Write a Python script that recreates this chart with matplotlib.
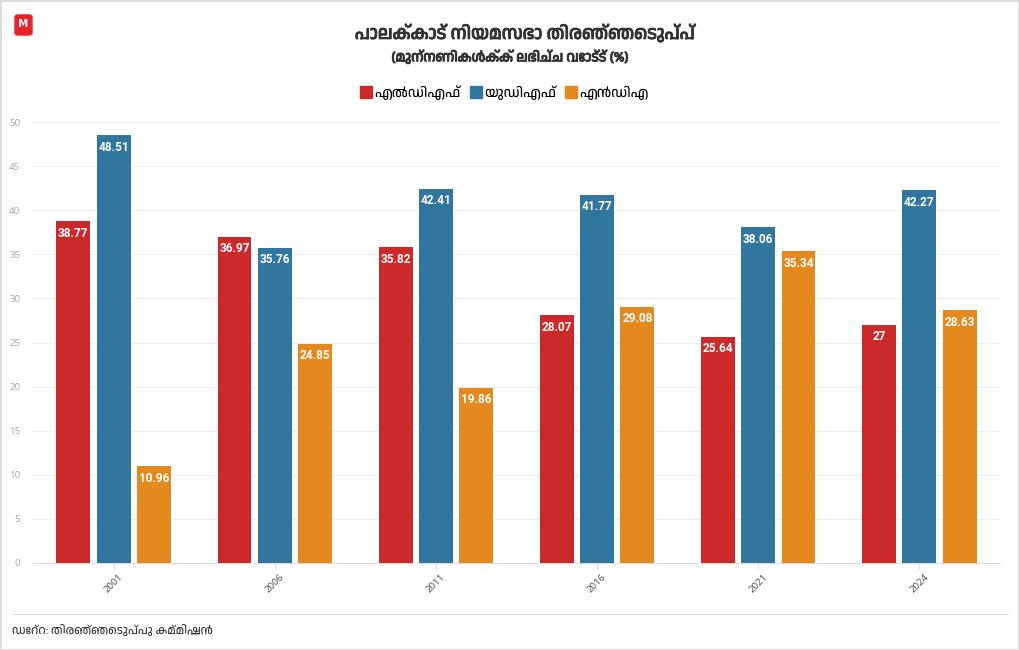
import matplotlib.pyplot as plt
from matplotlib import font_manager
from matplotlib import patheffects
from matplotlib.patches import FancyBboxPatch
import numpy as np

YEARS = ["2001", "2006", "2011", "2016", "2021", "2024"]
LDF = [38.77, 36.97, 35.82, 28.07, 25.64, 27]
UDF = [48.51, 35.76, 42.41, 41.77, 38.06, 42.27]
NDA = [10.96, 24.85, 19.86, 29.08, 35.34, 28.63]
SERIES = ["എൽഡിഎഫ്", "യുഡിഎഫ്", "എൻഡിഎ"]
COLORS = ["#cc292b", "#31769e", "#e4891e"]

TITLE = "പാലക്കാട് നിയമസഭാ തിരഞ്ഞെടുപ്പ്"
SUBTITLE = "(മുന്നണികൾക്ക് ലഭിച്ച വോട്ട് (%)"
SOURCE = "ഡേറ്റ: തിരഞ്ഞെടുപ്പു കമ്മിഷൻ"

# use an installed Malayalam font if there is one
mal = [f.name for f in font_manager.fontManager.ttflist if "Malayalam" in f.name]
plt.rcParams["font.family"] = mal[:1] + ["Noto Sans", "DejaVu Sans"]

# fake a heavier weight for the headings
HEAVY = [patheffects.withStroke(linewidth=0.7, foreground="#333333")]


def main():
    fig = plt.figure(figsize=(10.2, 6.5), dpi=100)
    ax = fig.add_axes([33 / 1020, 87 / 650, 967 / 1020, 441 / 650])

    x = np.arange(len(YEARS))
    width = 0.21
    step = 0.25
    for i, (vals, col) in enumerate(zip([LDF, UDF, NDA], COLORS)):
        pos = x + (i - 1) * step
        bars = ax.bar(pos, vals, width=width, color=col, zorder=3)
        for b, v in zip(bars, vals):
            ax.annotate(f"{v:g}", (b.get_x() + b.get_width() / 2, v),
                        xytext=(0, -4), textcoords="offset points",
                        ha="center", va="top", color="white",
                        fontsize=8.5, fontweight="bold", family=["Roboto", "DejaVu Sans"],
                        zorder=4)

    ax.set_xlim(-0.5, len(YEARS) - 0.5)
    ax.set_ylim(0, 50)
    ax.set_yticks(range(0, 51, 5))
    ax.set_xticks(x)
    ax.set_xticklabels(YEARS, rotation=45, fontsize=7, color="#555555")
    ax.tick_params(axis="y", labelsize=7, labelcolor="#aaaaaa", length=0, pad=9)
    ax.tick_params(axis="x", length=4, color="#dddddd", pad=3)
    for lab in ax.get_xticklabels() + ax.get_yticklabels():
        lab.set_family(["Noto Sans", "DejaVu Sans"])
    ax.grid(axis="y", color="#eeeeee", linewidth=0.8, zorder=0)
    for s in ["top", "right", "left"]:
        ax.spines[s].set_visible(False)
    ax.spines["bottom"].set_color("#dddddd")

    fig.text(525 / 1020, 1 - 33 / 650, TITLE, ha="center", va="center",
             fontsize=13, fontweight="bold", color="#333333", path_effects=HEAVY)
    fig.text(510 / 1020, 1 - 57 / 650, SUBTITLE, ha="center", va="center",
             fontsize=10, fontweight="bold", color="#333333", path_effects=HEAVY)

    # legend
    handles = [plt.Line2D([], [], marker="s", linestyle="", markersize=9,
                          color=c) for c in COLORS]
    fig.legend(handles, SERIES, loc="center", bbox_to_anchor=(504 / 1020, 1 - 93 / 650),
               ncol=3, frameon=False, fontsize=10, handletextpad=0.1,
               columnspacing=0.6, handlelength=1.0)

    # source
    fig.add_artist(plt.Line2D([12 / 1020, 1008 / 1020], [1 - 614 / 650] * 2,
                              color="#dddddd", linewidth=0.8))
    fig.text(12 / 1020, 1 - 630 / 650, SOURCE, ha="left", va="center",
             fontsize=8.5, color="#333333")

    # logo
    logo = FancyBboxPatch((15 / 1020, 1 - 35 / 650), 17 / 1020, 20 / 650,
                          boxstyle="round,pad=0,rounding_size=0.003",
                          transform=fig.transFigure, color="#e8202a")
    fig.add_artist(logo)
    fig.text(23.5 / 1020, 1 - 24 / 650, "M", ha="center", va="center",
             fontsize=7.5, fontweight="bold", color="white", family="DejaVu Sans")

    # outer border
    fig.add_artist(plt.Rectangle((0.5 / 1020, 0.5 / 650), 1 - 1 / 1020, 1 - 1 / 650,
                                 transform=fig.transFigure, fill=False,
                                 edgecolor="#dddddd", linewidth=1.5))

    fig.savefig("out.png", dpi=100)
    plt.close(fig)


if __name__ == "__main__":
    main()
